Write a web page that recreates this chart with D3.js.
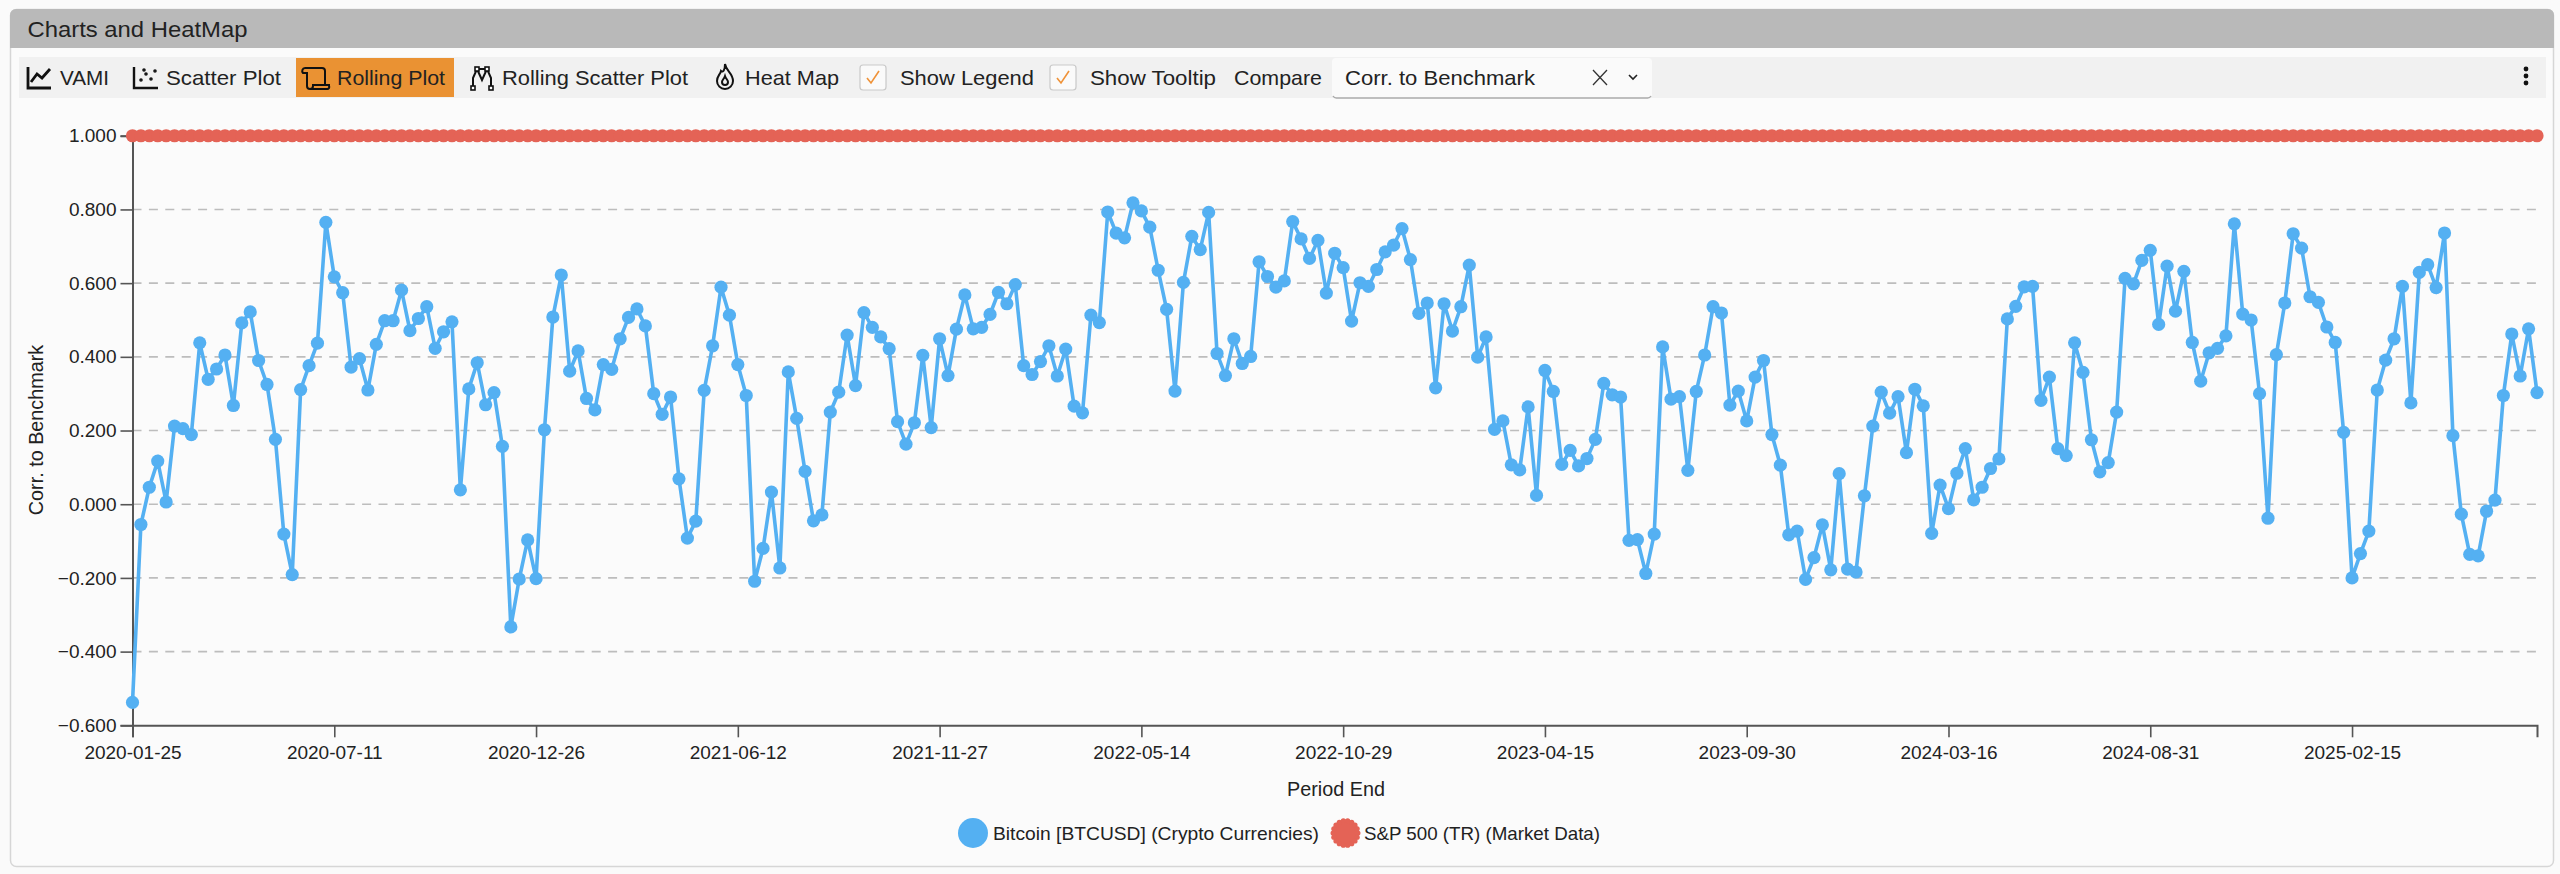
<!DOCTYPE html>
<html><head><meta charset="utf-8">
<script src="https://cdnjs.cloudflare.com/ajax/libs/d3/7.9.0/d3.min.js"></script>
<style>
html,body{margin:0;padding:0;background:#fafafa;overflow:hidden}
svg{display:block}
text{font-family:"Liberation Sans",Arial,sans-serif;fill:#222}
</style></head><body><svg id="c" width="2560" height="874"></svg>
<script>
const startDate = "2020-01-25";
const tickLabels = ["2020-01-25","2020-07-11","2020-12-26","2021-06-12","2021-11-27","2022-05-14","2022-10-29","2023-04-15","2023-09-30","2024-03-16","2024-08-31","2025-02-15"];
const yTickValues = [-0.6,-0.4,-0.2,0,0.2,0.4,0.6,0.8,1.0];
const seriesNames = ["Bitcoin [BTCUSD] (Crypto Currencies)","S&P 500 (TR) (Market Data)"];
const btc = [
-.538,-.055,.046,.117,.006,.212,.205,.189,.438,.339,.367,.405,.268,.492,.522,.390,.325,.176,-.081,-.191,
.311,.376,.437,.765,.617,.574,.372,.395,.310,.434,.498,.498,.581,.471,.504,.536,.423,.468,.495,.039,
.313,.384,.270,.303,.157,-.333,-.203,-.097,-.202,.202,.508,.622,.361,.416,.287,.256,.379,.366,.449,.507,
.530,.484,.300,.244,.291,.069,-.092,-.046,.309,.430,.589,.513,.379,.295,-.209,-.120,.033,-.173,.359,.233,
.089,-.045,-.029,.250,.304,.459,.322,.520,.480,.454,.422,.224,.163,.221,.404,.208,.449,.349,.475,.568,
.476,.480,.515,.575,.544,.596,.376,.352,.387,.430,.348,.421,.266,.248,.513,.493,.793,.736,.723,.818,
.796,.752,.635,.529,.307,.602,.727,.691,.792,.409,.349,.449,.382,.401,.658,.618,.589,.606,.767,.720,
.667,.716,.573,.681,.642,.497,.601,.591,.637,.685,.703,.748,.664,.518,.546,.316,.544,.470,.536,.649,
.399,.454,.203,.226,.107,.093,.264,.024,.363,.306,.108,.146,.104,.124,.176,.328,.297,.291,-.098,-.096,
-.188,-.081,.427,.285,.292,.092,.306,.405,.536,.519,.269,.307,.226,.345,.390,.189,.106,-.083,-.073,-.204,
-.145,-.056,-.178,.083,-.176,-.184,.023,.212,.304,.247,.292,.140,.312,.267,-.079,.052,-.012,.084,.151,.012,
.046,.097,.123,.503,.537,.590,.591,.282,.345,.151,.132,.438,.358,.175,.088,.113,.250,.613,.598,.662,
.689,.488,.646,.524,.632,.439,.334,.411,.423,.457,.761,.516,.500,.300,-.038,.406,.546,.734,.695,.563,
.548,.481,.439,.195,-.200,-.134,-.073,.310,.391,.449,.591,.275,.629,.650,.588,.736,.186,-.027,-.136,-.140,
-.019,.011,.295,.462,.348,.476,.303];
const sp500 = [
1,1,1,1,1,1,1,1,1,1,1,1,1,1,1,1,1,1,1,1,
1,1,1,1,1,1,1,1,1,1,1,1,1,1,1,1,1,1,1,1,
1,1,1,1,1,1,1,1,1,1,1,1,1,1,1,1,1,1,1,1,
1,1,1,1,1,1,1,1,1,1,1,1,1,1,1,1,1,1,1,1,
1,1,1,1,1,1,1,1,1,1,1,1,1,1,1,1,1,1,1,1,
1,1,1,1,1,1,1,1,1,1,1,1,1,1,1,1,1,1,1,1,
1,1,1,1,1,1,1,1,1,1,1,1,1,1,1,1,1,1,1,1,
1,1,1,1,1,1,1,1,1,1,1,1,1,1,1,1,1,1,1,1,
1,1,1,1,1,1,1,1,1,1,1,1,1,1,1,1,1,1,1,1,
1,1,1,1,1,1,1,1,1,1,1,1,1,1,1,1,1,1,1,1,
1,1,1,1,1,1,1,1,1,1,1,1,1,1,1,1,1,1,1,1,
1,1,1,1,1,1,1,1,1,1,1,1,1,1,1,1,1,1,1,1,
1,1,1,1,1,1,1,1,1,1,1,1,1,1,1,1,1,1,1,1,
1,1,1,1,1,1,1,1,1,1,1,1,1,1,1,1,1,1,1,1,
1,1,1,1,1,1,1];

const parse = d3.utcParse("%Y-%m-%d");
const dates = btc.map((_, i) => d3.utcDay.offset(parse(startDate), i * 7));
const svg = d3.select("#c");
const L = 132.5, R = 2537, T = 135.75, B = 725.3;
const x = d3.scaleUtc().domain([dates[0], dates[dates.length - 1]]).range([L, R]);
const y = d3.scaleLinear().domain([-0.6, 1]).range([B, T]);
const BLUE = "#54b0f2", RED = "#e46356", AX = "#555";

// panel chrome
svg.append("rect").attr("x",10.5).attr("y",9.5).attr("width",2543).attr("height",857).attr("rx",6).attr("fill","#fbfbfb").attr("stroke","#d6d6d6").attr("stroke-width",1.5);
svg.append("path").attr("d","M10 48V15a6 6 0 0 1 6-6H2548a6 6 0 0 1 6 6V48Z").attr("fill","#b9b9b9");
svg.append("rect").attr("x",19).attr("y",57).attr("width",2527).attr("height",41).attr("fill","#f1f1f1");
svg.append("text").attr("x",27.5).attr("y",37).attr("font-size",22).attr("textLength",220).attr("lengthAdjust","spacingAndGlyphs").text("Charts and HeatMap");
svg.append("rect").attr("x",296).attr("y",58).attr("width",158).attr("height",39).attr("fill","#ea9233");

const labels = [["VAMI",60,49],["Scatter Plot",166,115],["Rolling Plot",337,108],["Rolling Scatter Plot",502,186],["Heat Map",745,94],["Show Legend",900,134],["Show Tooltip",1090,126],["Compare",1234,88]];
labels.forEach(([t,px,w]) => svg.append("text").attr("x",px).attr("y",85).attr("font-size",21).attr("textLength",w).attr("lengthAdjust","spacingAndGlyphs").text(t));

const ic = svg.append("g").attr("fill","none").attr("stroke","#111").attr("stroke-width",2.8);
ic.append("path").attr("d","M28 67V88H51M31 82L37 74L42 78L50 69");
ic.append("path").attr("d","M134 67V88H158").attr("stroke-width",2.4);
[[141,80],[146,74],[151,79],[155,71],[144,70]].forEach(p=>ic.append("circle").attr("cx",p[0]).attr("cy",p[1]).attr("r",.8).attr("stroke-width",2));
ic.append("path").attr("d","M305 68H322a3 3 0 0 1 3 3V84M305 68a3 3 0 0 0-2 5h4V86a3 3 0 0 0 3 3H327a2 2 0 0 0 2-3V85H313V86a3 3 0 0 1-3 3").attr("stroke-width",2);
ic.append("path").attr("d","M473 88V78L477 69H487L491 78V88M477 69L482 80L487 69").attr("stroke-width",2);
[[473,88],[477,69],[487,69],[491,88]].forEach(p=>ic.append("rect").attr("x",p[0]-2).attr("y",p[1]-2).attr("width",4).attr("height",4).attr("stroke-width",1.6).attr("fill","#fff"));
ic.append("path").attr("d","M725 64C726 71 733 73 733 81A8 8 0 0 1 717 81C717 76 720 75 721 71C723 73 725 70 725 64ZM725 76C726 79 728 80 728 82A3 3 0 0 1 722 82C722 80 724 79 725 76Z").attr("stroke-width",2);

[[860,65],[1050,65]].forEach(([bx,by])=>{
  svg.append("rect").attr("x",bx).attr("y",by).attr("width",26).attr("height",25).attr("rx",3).attr("fill","#fafafa").attr("stroke","#c9c9c9").attr("stroke-width",1.2);
  svg.append("path").attr("d",`M${bx+7} ${by+13}L${bx+11} ${by+18}L${bx+19} ${by+6}`).attr("fill","none").attr("stroke","#ef9238").attr("stroke-width",1.6);
});
svg.append("rect").attr("x",1332).attr("y",58).attr("width",320).attr("height",40).attr("rx",4).attr("fill","#fafafa");
svg.append("path").attr("d","M1333 96a4 4 0 0 0 4 2H1647a4 4 0 0 0 4-2").attr("fill","none").attr("stroke","#aaa").attr("stroke-width",1.5);
svg.append("text").attr("x",1345).attr("y",85).attr("font-size",21).attr("textLength",190).attr("lengthAdjust","spacingAndGlyphs").text("Corr. to Benchmark");
svg.append("path").attr("d","M1593 70L1607 85M1607 70L1593 85").attr("stroke","#333").attr("stroke-width",1.3);
svg.append("path").attr("d","M1629 75L1633 79L1637 75").attr("fill","none").attr("stroke","#222").attr("stroke-width",1.6);
[69,76,83].forEach(cy=>svg.append("circle").attr("cx",2526).attr("cy",cy).attr("r",2.4).attr("fill","#111"));

// grid
svg.append("g").selectAll("line").data(yTickValues.filter(v=>v>-0.6&&v<1)).join("line")
  .attr("x1",L).attr("x2",R).attr("y1",d=>y(d)).attr("y2",d=>y(d))
  .attr("stroke","#bdbdbd").attr("stroke-width",1.6).attr("stroke-dasharray","9 7.4");

// axes
const yAxis = d3.axisLeft(y).tickValues(yTickValues).tickFormat(d3.format(".3f")).tickSize(12).tickPadding(4);
const gy = svg.append("g").attr("transform",`translate(${L},0)`).call(yAxis);
const xAxis = d3.axisBottom(x).tickValues(tickLabels.map(parse)).tickFormat(d3.utcFormat("%Y-%m-%d")).tickSize(12).tickPadding(8);
const gx = svg.append("g").attr("transform",`translate(0,${B})`).call(xAxis);
[gx,gy].forEach(g=>{
  g.selectAll(".domain").attr("stroke",AX).attr("stroke-width",2);
  g.selectAll(".tick line").attr("stroke",AX).attr("stroke-width",1.6);
  g.selectAll("text").attr("font-size",19).attr("fill","#333").attr("font-family","'Liberation Sans',Arial,sans-serif");
});
svg.append("text").attr("transform","translate(43,430) rotate(-90)").attr("text-anchor","middle").attr("font-size",19.8).attr("fill","#333").text("Corr. to Benchmark");
svg.append("text").attr("x",1336).attr("y",796).attr("text-anchor","middle").attr("font-size",19.8).attr("fill","#333").text("Period End");

// series
const line = d3.line().x((d,i)=>x(dates[i])).y(d=>y(d));
[[btc,BLUE],[sp500,RED]].forEach(([s,c])=>{
  svg.append("path").datum(s).attr("d",line).attr("fill","none").attr("stroke",c).attr("stroke-width",3.6);
  svg.append("g").selectAll("circle").data(s).join("circle")
    .attr("cx",(d,i)=>x(dates[i])).attr("cy",d=>y(d)).attr("r",6.6).attr("fill",c);
});

// legend
const lg = svg.append("g");
lg.append("circle").attr("cx",973).attr("cy",833).attr("r",15).attr("fill",BLUE);
lg.append("circle").attr("cx",1345.5).attr("cy",833).attr("r",13.5).attr("fill",RED);
d3.range(18).forEach(k=>{
  const a = k / 18 * 2 * Math.PI;
  lg.append("circle").attr("cx",1345.5+12.4*Math.cos(a)).attr("cy",833+12.4*Math.sin(a)).attr("r",2.6).attr("fill",RED);
});
lg.append("text").attr("x",993).attr("y",839.5).attr("font-size",19).attr("fill","#333").attr("textLength",326).attr("lengthAdjust","spacingAndGlyphs").text(seriesNames[0]);
lg.append("text").attr("x",1364).attr("y",839.5).attr("font-size",19).attr("fill","#333").attr("textLength",236).attr("lengthAdjust","spacingAndGlyphs").text(seriesNames[1]);
</script></body></html>
